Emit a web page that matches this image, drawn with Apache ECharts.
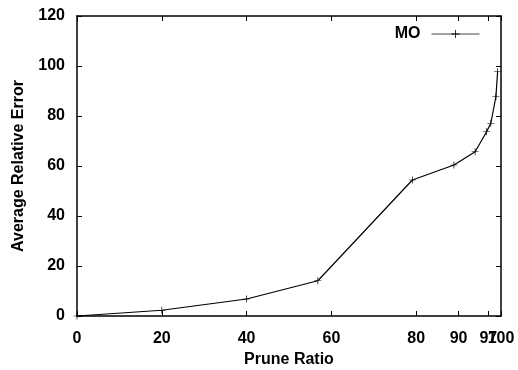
<!DOCTYPE html>
<html>
<head>
<meta charset="utf-8">
<script src="https://cdn.jsdelivr.net/npm/echarts@6/dist/echarts.min.js"></script>
<style>
  html, body { margin: 0; padding: 0; background: #fff; }
  #chart { width: 518px; height: 370px; }
</style>
</head>
<body>
<div id="chart"></div>
<script>
// Prune ratio (%) vs average relative error
const pruneRatio = [0, 20, 40, 56.8, 79.1, 88.9, 93.9, 96.6, 97.6, 98.8, 99.2];
const avgError = [0, 2.3, 6.8, 14.1, 54.4, 60.4, 65.7, 73.7, 77.1, 87.7, 97.7];
const xTicks = [0, 20, 40, 60, 80, 90, 97, 100];
// the 97 label overlaps 100 in the original, drawn on its own axis so it isn't dropped
const xLabelsMain = [0, 20, 40, 60, 80, 90, 100];
const xLabelsExtra = [97];
const yTicks = [0, 20, 40, 60, 80, 100, 120];

const font = 'Liberation Sans, Arial, sans-serif';
const plus = 'path://M4.5,0h1v4.5h4.5v1h-4.5v4.5h-1v-4.5h-4.5v-1h4.5z';

const chart = echarts.init(document.getElementById('chart'));

const axisLine = { show: true, onZero: false, lineStyle: { color: '#000', width: 1.5 } };
const tick = { show: true, inside: true, length: 5, lineStyle: { color: '#000' } };
const labelStyle = { fontFamily: font, fontSize: 16, fontWeight: 'bold', color: '#000' };

const option = {
  animation: false,
  backgroundColor: '#fff',
  textStyle: { fontFamily: font, color: '#000' },
  grid: { left: 77, right: 17, top: 16, bottom: 54, containLabel: false, outerBoundsMode: 'none' },
  legend: {
    data: ['MO'],
    right: 33,
    top: 21,
    align: 'right',
    itemWidth: 48,
    itemHeight: 10,
    lineStyle: { width: 1, color: '#444' },
    textStyle: Object.assign({ padding: [0, 6, 0, 0] }, labelStyle)
  },
  xAxis: [
    {
      type: 'value',
      min: 0,
      max: 100,
      name: 'Prune Ratio',
      nameLocation: 'middle',
      nameGap: 36,
      nameTextStyle: labelStyle,
      axisLine: axisLine,
      axisTick: Object.assign({ customValues: xTicks }, tick),
      axisLabel: Object.assign({ customValues: xLabelsMain, margin: 15, hideOverlap: false,
        showMinLabel: true, showMaxLabel: true }, labelStyle),
      splitLine: { show: false }
    },
    {
      type: 'value',
      min: 0,
      max: 100,
      position: 'top',
      axisLine: axisLine,
      axisTick: Object.assign({ customValues: xTicks }, tick),
      axisLabel: { show: false },
      splitLine: { show: false }
    },
    {
      type: 'value',
      min: 0,
      max: 100,
      position: 'bottom',
      axisLine: { show: false, onZero: false },
      axisTick: { show: false },
      axisLabel: Object.assign({ customValues: xLabelsExtra, margin: 15,
        showMinLabel: false, showMaxLabel: false }, labelStyle),
      splitLine: { show: false }
    }
  ],
  yAxis: [
    {
      type: 'value',
      min: 0,
      max: 120,
      interval: 20,
      name: 'Average Relative Error',
      nameLocation: 'middle',
      nameGap: 50,
      nameTextStyle: labelStyle,
      axisLine: axisLine,
      axisTick: Object.assign({ customValues: yTicks }, tick),
      axisLabel: Object.assign({ customValues: yTicks, margin: 12 }, labelStyle),
      splitLine: { show: false }
    },
    {
      type: 'value',
      min: 0,
      max: 120,
      interval: 20,
      position: 'right',
      axisLine: axisLine,
      axisTick: tick,
      axisLabel: { show: false },
      splitLine: { show: false }
    }
  ],
  series: [
    {
      name: 'MO',
      type: 'line',
      data: pruneRatio.map((x, i) => [x, avgError[i]]),
      symbol: plus,
      symbolSize: 7,
      showSymbol: true,
      lineStyle: { color: '#000', width: 1.2 },
      itemStyle: { color: '#000' }
    }
  ]
};

chart.setOption(option);
</script>
</body>
</html>
